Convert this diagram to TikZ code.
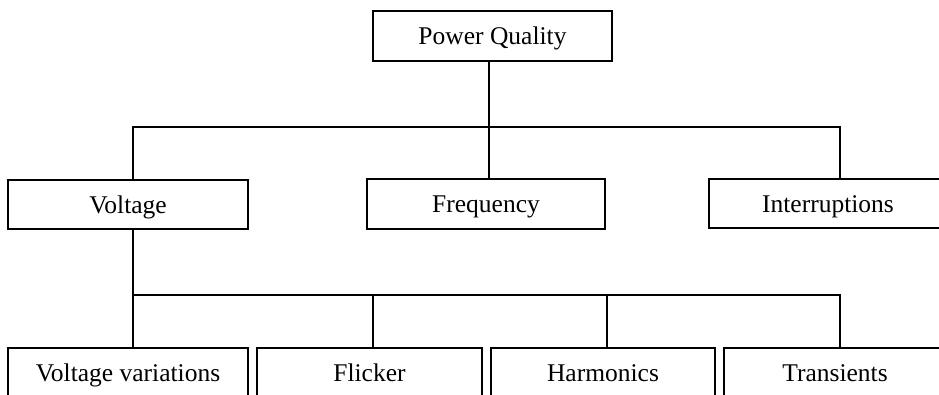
\documentclass[tikz,border=0pt]{standalone}
\usepackage{fontspec}
\setmainfont{Liberation Serif}
\begin{document}
\begin{tikzpicture}[x=1pt,y=-1pt,
  boxnode/.style={draw=black,line width=1.6pt,rectangle,inner sep=0pt,
    text height=17pt,text depth=0pt,
    font=\fontsize{25.5}{30}\selectfont},
  link/.style={draw=black,line width=1.4pt}]
\useasboundingbox (0,0) rectangle (939,394);
% top
\node[boxnode,minimum width=239pt,minimum height=50pt] (pq) at (492.5,36) {Power Quality};
% level 1
\node[boxnode,minimum width=240pt,minimum height=49pt] (volt) at (128,204.5) {Voltage};
\node[boxnode,minimum width=238pt,minimum height=50pt] (freq) at (486,204) {Frequency};
\node[boxnode,minimum width=238pt,minimum height=49pt] (intr) at (828,203.5) {Interruptions};
% level 2
\node[boxnode,minimum width=240pt,minimum height=50pt] (vv) at (128,373) {Voltage variations};
\node[boxnode,minimum width=225pt,minimum height=50pt] (fl) at (369.5,373) {Flicker};
\node[boxnode,minimum width=224pt,minimum height=50pt] (harm) at (603,373) {Harmonics};
\node[boxnode,minimum width=222pt,minimum height=50pt] (tr) at (835,373) {Transients};
% junction coordinates
\coordinate (j1) at (489,127);
\coordinate (a1) at (133,127);
\coordinate (c1) at (840,127);
\coordinate (j2) at (133,295);
\coordinate (b2) at (373,295);
\coordinate (c2) at (607,295);
\coordinate (d2) at (840,295);
% connectors level 1
\draw[link] (pq.south -| j1) -- (j1);
\draw[link] (volt.north -| a1) -- (a1) -- (c1) -- (intr.north -| c1);
\draw[link] (j1) -- (freq.north -| j1);
% connectors level 2
\draw[link] (volt.south -| j2) -- (vv.north -| j2);
\draw[link] (j2) -- (d2) -- (tr.north -| d2);
\draw[link] (b2) -- (fl.north -| b2);
\draw[link] (c2) -- (harm.north -| c2);
\end{tikzpicture}
\end{document}
